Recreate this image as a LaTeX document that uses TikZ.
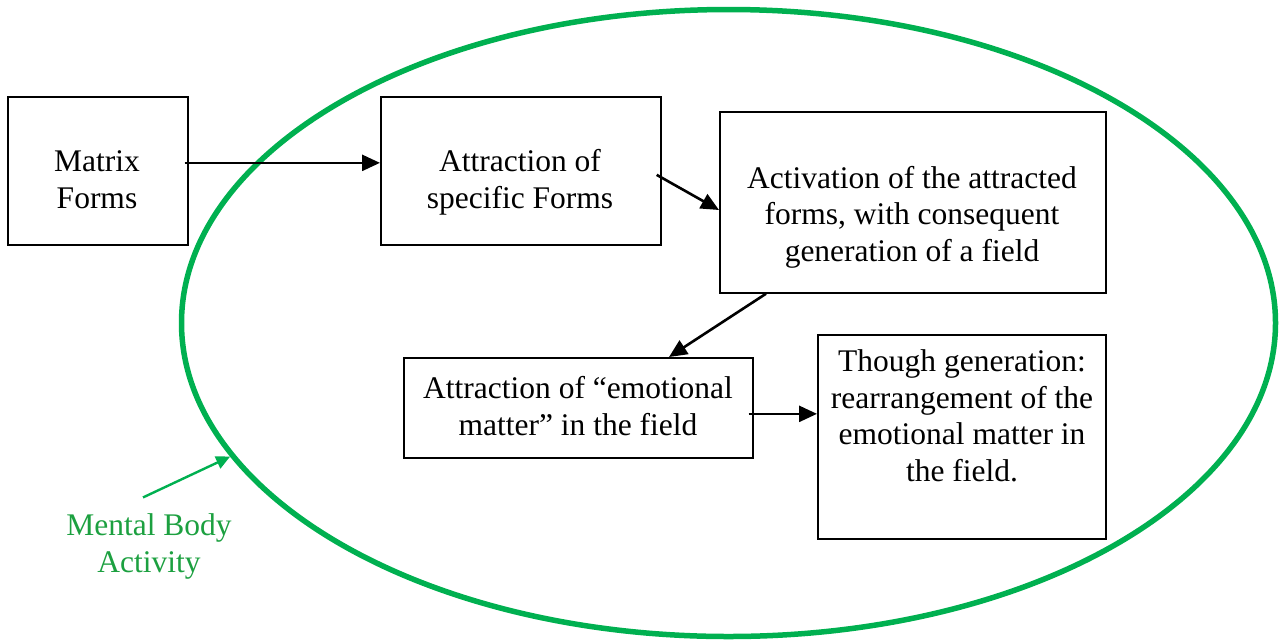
\documentclass[tikz,border=0pt]{standalone}
\usepackage{fontspec}
\setmainfont{Liberation Serif}
\usetikzlibrary{arrows.meta,calc,shapes.geometric}
\definecolor{mbgreen}{RGB}{0,176,80}
\definecolor{mbtext}{RGB}{28,160,64}
\begin{document}
\begin{tikzpicture}[x=1pt,y=-1pt,
  box/.style={draw,line width=1.7pt,inner sep=0pt,anchor=north west},
  txt/.style={align=center,inner sep=0pt,anchor=base,font=\fontsize{31.5}{36.5}\selectfont},
  arr/.style={line width=2.6pt,-{Triangle[length=18pt,width=16pt]}},
  garr/.style={mbgreen,line width=2.4pt,-{Triangle[length=14pt,width=13pt]}}]
\useasboundingbox (0,0) rectangle (1279,641);
% ellipse
\node[draw=mbgreen,line width=5.5pt,ellipse,minimum width=1094pt,minimum height=627pt,inner sep=0pt] (mb) at (728.5,323) {};
% boxes
\node[box,minimum width=180pt,minimum height=148pt] (m) at (7,96) {};
\node[box,minimum width=280pt,minimum height=148pt] (a1) at (380,96) {};
\node[box,minimum width=386pt,minimum height=181pt] (a2) at (719,111) {};
\node[box,minimum width=349pt,minimum height=100pt] (a3) at (403,357) {};
\node[box,minimum width=288pt,minimum height=204pt] (a4) at (817,334) {};
% texts (anchor base = baseline of last line)
\node[txt] (tm) at (97,208) {Matrix\\Forms};
\node[txt] (ta1) at (520,208) {Attraction of\\specific Forms};
\node[txt] (ta2) at (912,261) {Activation of the attracted\\forms, with consequent\\generation of a field};
\node[txt] (ta3) at (578,435) {Attraction of “emotional\\matter” in the field};
\node[txt] (ta4) at (962,481) {Though generation:\\rearrangement of the\\emotional matter in\\the field.};
\node[txt,text=mbtext] (mba) at (149,572) {Mental Body\\Activity};
% connectors
\draw[arr] ($(m.east)+(-4,-8)$) -- ($(a1.west)+(0,-8)$);
\draw[arr] ($(a1.east)+(-5,4)$) -- ($(a2.north west)+(0,99)$);
\draw[arr] ($(a2.south west)+(47,0)$) -- ($(a3.north west)+(266,0)$);
\draw[arr] ($(a3.east)+(-5,6)$) -- ($(a4.west)+(0,-23)$);
\draw[garr] ($(mba.north)+(-6,-16)$) -- (mb.195);
\end{tikzpicture}
\end{document}
